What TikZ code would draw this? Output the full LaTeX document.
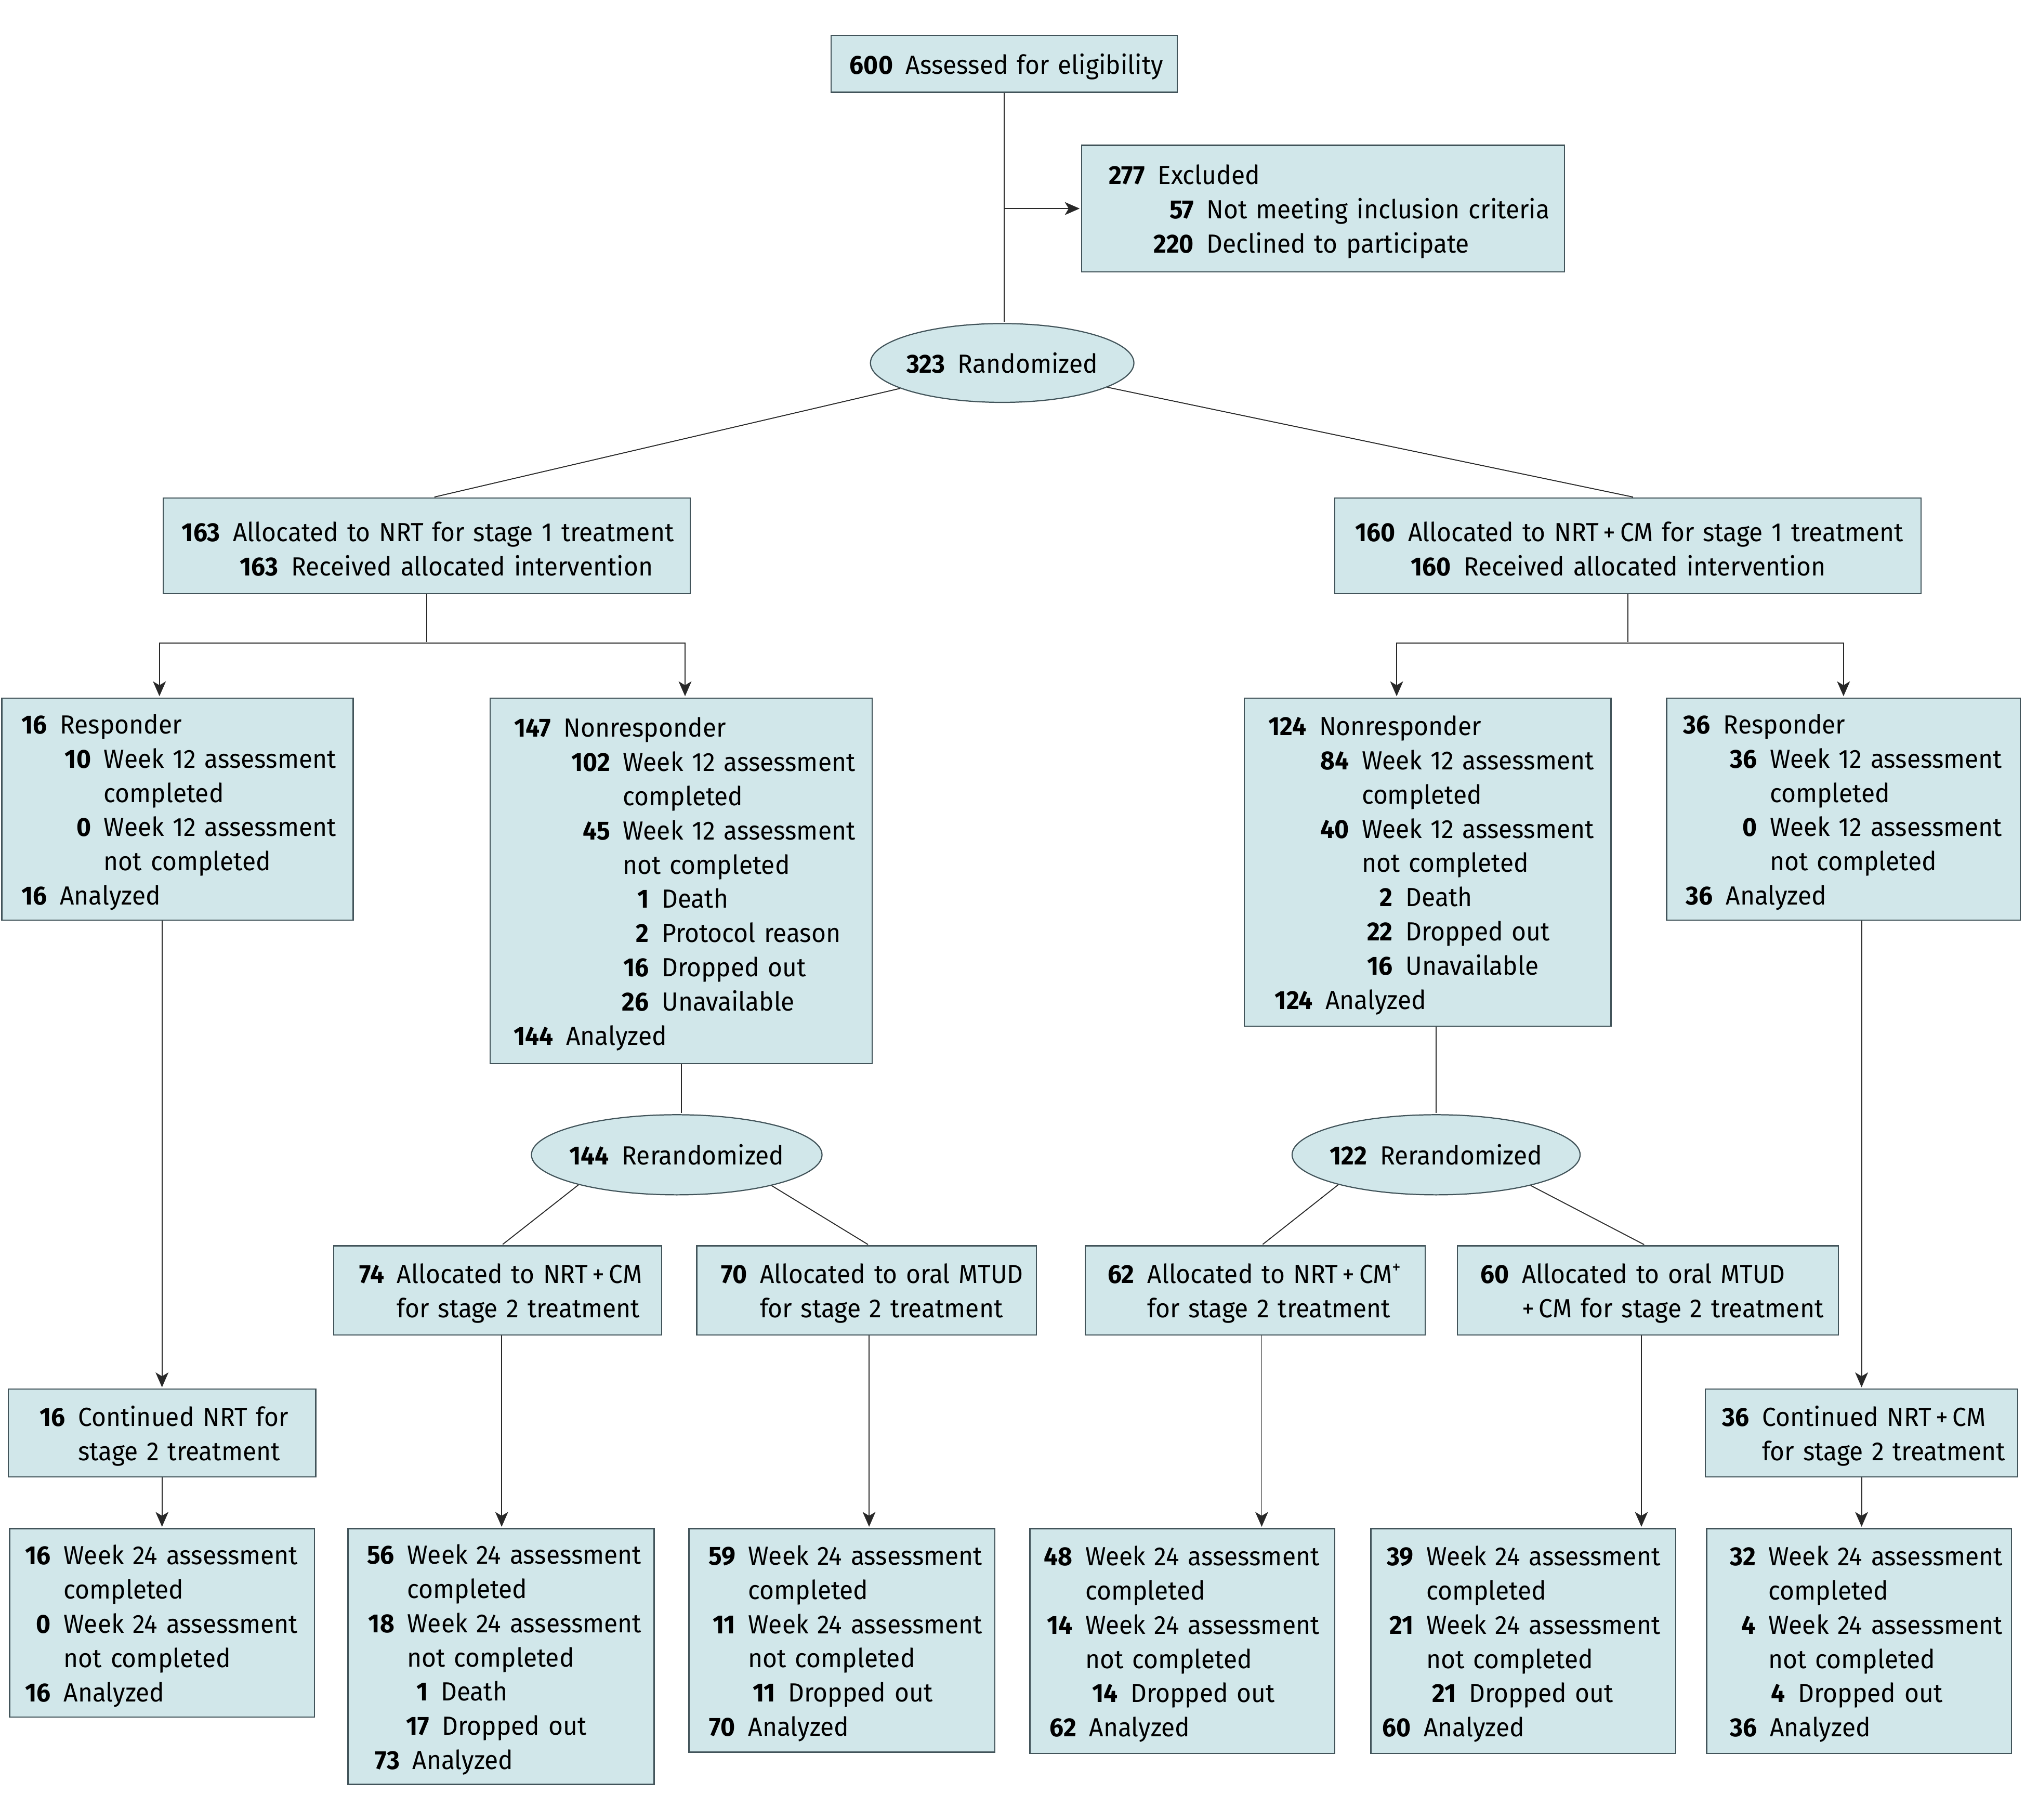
\documentclass[tikz,border=0pt]{standalone}
\usepackage{fontspec}
\setmainfont{Fira Sans}[FakeStretch=0.95]
\usetikzlibrary{arrows.meta,shapes.geometric}
\definecolor{flowF}{RGB}{209,231,234}
\definecolor{flowD}{RGB}{66,84,90}
\definecolor{flowL}{RGB}{40,40,40}
% one line of a box: number right-aligned, text starting at #1pt
\newcommand{\rowN}[3]{\mbox{\makebox[\dimexpr#1pt-10pt\relax][r]{\textbf{#2}}\hspace{10pt}#3}}
\newcommand{\rowC}[2]{\mbox{\hspace*{#1pt}#2}}

\begin{document}
\begin{tikzpicture}[x=1pt,y=-1pt,>={Stealth[length=11.5pt,width=10pt,inset=3pt]},
  box/.style={draw=flowD,line width=0.9pt,fill=flowF,anchor=north west,align=left,
    inner xsep=11pt,inner ysep=0pt,font=\fontsize{20.3pt}{26.5pt}\selectfont,
    execute at begin node={\rule{0pt}{20pt}}},
  oval/.style={ellipse,draw=flowD,line width=0.9pt,fill=flowF,inner sep=0pt,
    font=\fontsize{20.3pt}{26.5pt}\selectfont},
  link/.style={draw=flowL,line width=0.75pt,shorten >=1pt}]
\useasboundingbox (0,0) rectangle (1568,1409);
% enrollment
\node[box,text width=246pt,minimum height=44pt] (elig) at (643,27) {\rowN{47}{600}{Assessed for eligibility}};
\node[box,text width=352pt,minimum height=98pt] (excl) at (837,112) {\rowN{48}{277}{Excluded}\\ \rowN{86}{57}{Not meeting inclusion criteria}\\ \rowN{86}{220}{Declined to participate}};
\node[oval,minimum width=204pt,minimum height=61pt] (rand) at (776,281) {\makebox[0pt]{\textbf{323}\hspace{10pt}Randomized}};
% stage 1
\node[box,text width=386pt,minimum height=74pt] (nrt1) at (126,385) {\rowN{43}{163}{Allocated to NRT for stage 1 treatment}\\ \rowN{88}{163}{Received allocated intervention}};
\node[box,text width=432pt,minimum height=74pt] (cm1) at (1033,385) {\rowN{46}{160}{Allocated to NRT\,+\,CM for stage 1 treatment}\\ \rowN{89}{160}{Received allocated intervention}};
% responders / nonresponders
\node[box,text width=250pt,minimum height=172pt] (resp1) at (1,540) {\rowN{34}{16}{Responder}\\ \rowN{68}{10}{Week 12 assessment}\\ \rowC{68}{completed}\\ \rowN{68}{0}{Week 12 assessment}\\ \rowC{68}{not completed}\\ \rowN{34}{16}{Analyzed}};
\node[box,text width=274pt,minimum height=283pt] (nonr1) at (379,540) {\rowN{46}{147}{Nonresponder}\\ \rowN{92}{102}{Week 12 assessment}\\ \rowC{92}{completed}\\ \rowN{92}{45}{Week 12 assessment}\\ \rowC{92}{not completed}\\ \rowN{122}{1}{Death}\\ \rowN{122}{2}{Protocol reason}\\ \rowN{122}{16}{Dropped out}\\ \rowN{122}{26}{Unavailable}\\ \rowN{48}{144}{Analyzed}};
\node[box,text width=262pt,minimum height=254pt] (nonr2) at (963,540) {\rowN{47}{124}{Nonresponder}\\ \rowN{80}{84}{Week 12 assessment}\\ \rowC{80}{completed}\\ \rowN{80}{40}{Week 12 assessment}\\ \rowC{80}{not completed}\\ \rowN{114}{2}{Death}\\ \rowN{114}{22}{Dropped out}\\ \rowN{114}{16}{Unavailable}\\ \rowN{52}{124}{Analyzed}};
\node[box,text width=252pt,minimum height=172pt] (resp2) at (1290,540) {\rowN{33}{36}{Responder}\\ \rowN{69}{36}{Week 12 assessment}\\ \rowC{69}{completed}\\ \rowN{69}{0}{Week 12 assessment}\\ \rowC{69}{not completed}\\ \rowN{35}{36}{Analyzed}};
% rerandomization
\node[oval,minimum width=225pt,minimum height=62pt] (rr1) at (524,894) {\makebox[0pt]{\textbf{144}\hspace{10pt}Rerandomized}};
\node[oval,minimum width=223pt,minimum height=62pt] (rr2) at (1112,894) {\makebox[0pt]{\textbf{122}\hspace{10pt}Rerandomized}};
% stage 2
\node[box,text width=232pt,minimum height=69pt] (a1) at (258,964) {\rowN{38}{74}{Allocated to NRT\,+\,CM}\\ \rowC{38}{for stage 2 treatment}};
\node[box,text width=241pt,minimum height=69pt] (a2) at (539,964) {\rowN{38}{70}{Allocated to oral MTUD}\\ \rowC{38}{for stage 2 treatment}};
\node[box,text width=241pt,minimum height=69pt] (a3) at (840,964) {\rowN{37}{62}{Allocated to NRT\,+\,CM\textsuperscript{+}}\\ \rowC{37}{for stage 2 treatment}};
\node[box,text width=273pt,minimum height=69pt] (a4) at (1128,964) {\rowN{39}{60}{Allocated to oral MTUD}\\ \rowC{39}{+\,CM for stage 2 treatment}};
\node[box,text width=216pt,minimum height=68pt] (cont1) at (6,1075) {\rowN{43}{16}{Continued NRT for}\\ \rowC{43}{stage 2 treatment}};
\node[box,text width=220pt,minimum height=68pt] (cont2) at (1320,1075) {\rowN{33}{36}{Continued NRT\,+\,CM}\\ \rowC{33}{for stage 2 treatment}};
% week 24
\node[box,text width=214pt,minimum height=146pt] (w1) at (7,1183) {\rowN{31}{16}{Week 24 assessment}\\ \rowC{31}{completed}\\ \rowN{31}{0}{Week 24 assessment}\\ \rowC{31}{not completed}\\ \rowN{31}{16}{Analyzed}};
\node[box,text width=215pt,minimum height=198pt] (w2) at (269,1183) {\rowN{35}{56}{Week 24 assessment}\\ \rowC{35}{completed}\\ \rowN{35}{18}{Week 24 assessment}\\ \rowC{35}{not completed}\\ \rowN{61}{1}{Death}\\ \rowN{62}{17}{Dropped out}\\ \rowN{39}{73}{Analyzed}};
\node[box,text width=215pt,minimum height=173pt] (w3) at (533,1183) {\rowN{35}{59}{Week 24 assessment}\\ \rowC{35}{completed}\\ \rowN{35}{11}{Week 24 assessment}\\ \rowC{35}{not completed}\\ \rowN{66}{11}{Dropped out}\\ \rowN{35}{70}{Analyzed}};
\node[box,text width=214pt,minimum height=174pt] (w4) at (797,1183) {\rowN{32}{48}{Week 24 assessment}\\ \rowC{32}{completed}\\ \rowN{32}{14}{Week 24 assessment}\\ \rowC{32}{not completed}\\ \rowN{67}{14}{Dropped out}\\ \rowN{35}{62}{Analyzed}};
\node[box,text width=214pt,minimum height=174pt] (w5) at (1061,1183) {\rowN{32}{39}{Week 24 assessment}\\ \rowC{32}{completed}\\ \rowN{32}{21}{Week 24 assessment}\\ \rowC{32}{not completed}\\ \rowN{65}{21}{Dropped out}\\ \rowN{30}{60}{Analyzed}};
\node[box,text width=214pt,minimum height=174pt] (w6) at (1321,1183) {\rowN{37}{32}{Week 24 assessment}\\ \rowC{37}{completed}\\ \rowN{37}{4}{Week 24 assessment}\\ \rowC{37}{not completed}\\ \rowN{60}{4}{Dropped out}\\ \rowN{38}{36}{Analyzed}};
% trunk and exclusion
\draw[link] (elig.south) -- (elig.south |- rand.north);
\draw[link,->] (elig.south |- excl.west) -- (excl.west);
\draw[link] (rand.194) -- ([xshift=5pt]nrt1.north);
\draw[link] (rand.347) -- ([xshift=5pt]cm1.north);
% stage 1 splits
\draw[link] (nrt1.south) -- ++(0,38) coordinate (s1);
\draw[link,->] (s1) -| ([xshift=-14pt]resp1.north);
\draw[link,->] (s1) -| ([xshift=3pt]nonr1.north);
\draw[link] (cm1.south) -- ++(0,38) coordinate (s2);
\draw[link,->] (s2) -| ([xshift=-24pt]nonr2.north);
\draw[link,->] (s2) -| (resp2.north);
% responders continue
\draw[link,->] (cont1.north |- resp1.south) -- (cont1.north);
\draw[link,->] (cont1.south) -- (w1.north);
\draw[link,->] (cont2.north |- resp2.south) -- (cont2.north);
\draw[link,->] (cont2.south) -- (cont2.south |- w6.north);
% rerandomization
\draw[link] (nonr1.south) -- (nonr1.south |- rr1.north);
\draw[link] (rr2.north |- nonr2.south) -- (rr2.north);
\draw[link] (rr1.197) -- ([xshift=3pt]a1.north);
\draw[link] (rr1.342) -- ([xshift=2pt]a2.north);
\draw[link] (rr2.197) -- ([xshift=5pt]a3.north);
\draw[link] (rr2.342) -- ([xshift=-2pt]a4.north);
% stage 2 to week 24
\coordinate (a1b) at ([xshift=3pt]a1.south);
\coordinate (a2b) at ([xshift=2pt]a2.south);
\coordinate (a3b) at ([xshift=5pt]a3.south);
\coordinate (a4b) at ([xshift=-5pt]a4.south);
\draw[link,->] (a1b) -- (a1b |- w2.north);
\draw[link,->] (a2b) -- (a2b |- w3.north);
\draw[link,->] (a3b) -- (a3b |- w4.north);
\draw[link,->] (a4b) -- (a4b |- w5.north);
\end{tikzpicture}
\end{document}
